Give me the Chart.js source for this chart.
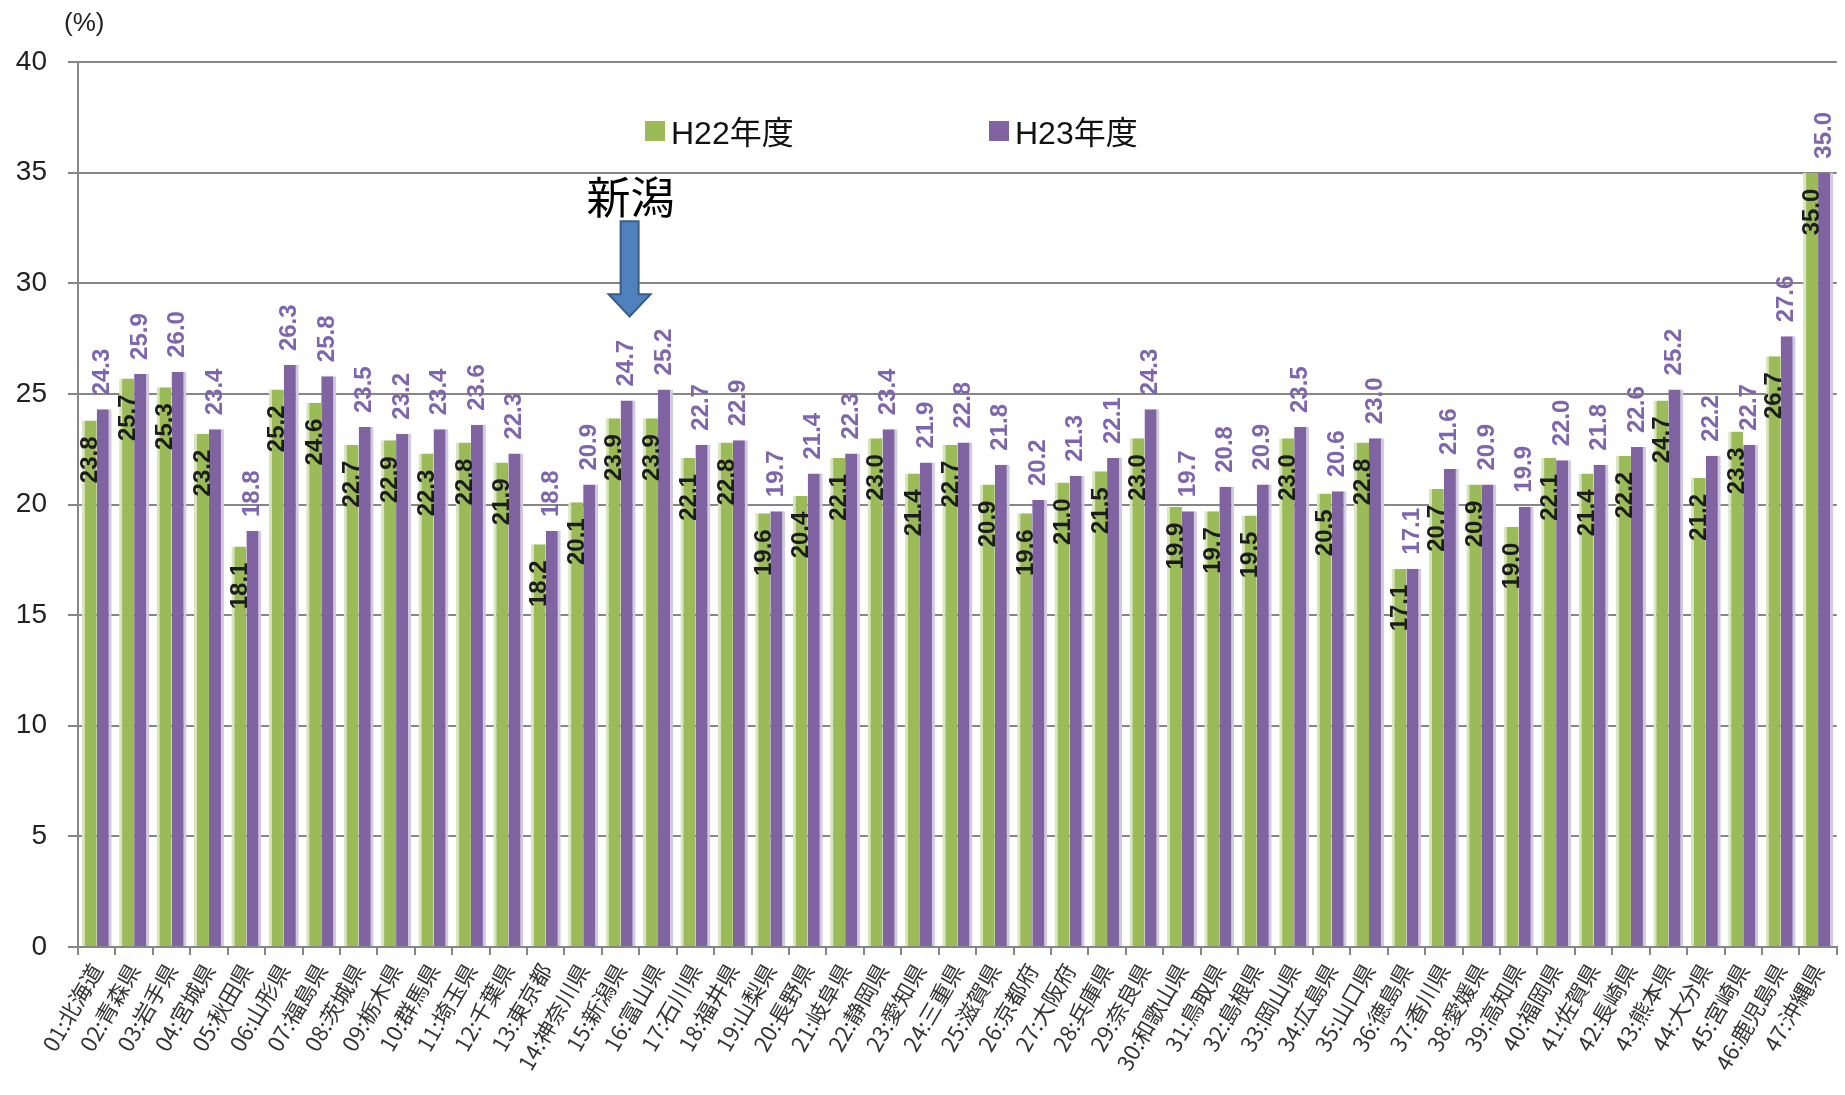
<!DOCTYPE html>
<html>
<head>
<meta charset="utf-8">
<script src="https://cdn.jsdelivr.net/npm/chart.js@4.4.0/dist/chart.umd.min.js"></script>
<style>
  html, body { margin: 0; padding: 0; background: #ffffff; }
</style>
</head>
<body>
<canvas id="myChart" width="1845" height="1095"></canvas>
<script>
// categories
const prefectures = [
  '01:北海道', '02:青森県', '03:岩手県', '04:宮城県', '05:秋田県', '06:山形県', '07:福島県',
  '08:茨城県', '09:栃木県', '10:群馬県', '11:埼玉県', '12:千葉県', '13:東京都', '14:神奈川県',
  '15:新潟県', '16:富山県', '17:石川県', '18:福井県', '19:山梨県', '20:長野県', '21:岐阜県',
  '22:静岡県', '23:愛知県', '24:三重県', '25:滋賀県', '26:京都府', '27:大阪府', '28:兵庫県',
  '29:奈良県', '30:和歌山県', '31:鳥取県', '32:島根県', '33:岡山県', '34:広島県', '35:山口県',
  '36:徳島県', '37:香川県', '38:愛媛県', '39:高知県', '40:福岡県', '41:佐賀県', '42:長崎県',
  '43:熊本県', '44:大分県', '45:宮崎県', '46:鹿児島県', '47:沖縄県'
];

// series values (%)
const h22Values = [
  23.8, 25.7, 25.3, 23.2, 18.1, 25.2, 24.6, 22.7, 22.9, 22.3, 22.8, 21.9, 18.2, 20.1,
  23.9, 23.9, 22.1, 22.8, 19.6, 20.4, 22.1, 23.0, 21.4, 22.7, 20.9, 19.6, 21.0, 21.5,
  23.0, 19.9, 19.7, 19.5, 23.0, 20.5, 22.8, 17.1, 20.7, 20.9, 19.0, 22.1, 21.4, 22.2,
  24.7, 21.2, 23.3, 26.7, 35.0
];
const h23Values = [
  24.3, 25.9, 26.0, 23.4, 18.8, 26.3, 25.8, 23.5, 23.2, 23.4, 23.6, 22.3, 18.8, 20.9,
  24.7, 25.2, 22.7, 22.9, 19.7, 21.4, 22.3, 23.4, 21.9, 22.8, 21.8, 20.2, 21.3, 22.1,
  24.3, 19.7, 20.8, 20.9, 23.5, 20.6, 23.0, 17.1, 21.6, 20.9, 19.9, 22.0, 21.8, 22.6,
  25.2, 22.2, 22.7, 27.6, 35.0
];

// tick labels
const yTickValues = [0, 5, 10, 15, 20, 25, 30, 35, 40];
const seriesNames = ['H22年度', 'H23年度'];
const unitLabel = '(%)';
const markerIndex = 14;
const markerText = '新潟';

const seriesColors = ['#9BBB59', '#8064A2'];
const edgeColors = ['#D8E5BF', '#D2C9E1'];
const labelColors = ['#1c1c1c', '#7E66AE'];
const gridColor = '#868686';

// value labels: green inside the bar top, purple above the bar, both rotated
const barLabelPlugin = {
  id: 'barLabels',
  afterDatasetsDraw(chart) {
    const ctx = chart.ctx;
    ctx.save();
    ctx.font = 'bold 24px "Liberation Sans", Arial, sans-serif';
    ctx.textBaseline = 'middle';
    chart.data.datasets.forEach((ds, di) => {
      const meta = chart.getDatasetMeta(di);
      const inside = di === 0;
      meta.data.forEach((bar, i) => {
        const text = ds.data[i].toFixed(1);
        ctx.save();
        ctx.translate(bar.x + (inside ? 1.5 : -1.5), inside ? bar.y + 16 : bar.y - 14);
        ctx.rotate(-Math.PI / 2);
        ctx.textAlign = inside ? 'right' : 'left';
        ctx.fillStyle = labelColors[di];
        ctx.fillText(text, 0, 0);
        ctx.restore();
      });
    });
    ctx.restore();
  }
};

// legend, unit label and the 新潟 arrow
const overlayPlugin = {
  id: 'overlay',
  afterDraw(chart) {
    const ctx = chart.ctx;
    const xs = chart.scales.x;
    const ys = chart.scales.y;
    ctx.save();

    ctx.fillStyle = '#222';
    ctx.font = '26px "Liberation Sans", Arial, sans-serif';
    ctx.textAlign = 'left';
    ctx.textBaseline = 'middle';
    ctx.fillText(unitLabel, 64, 24);

    // legend
    const legendX = [645, 989];
    ctx.font = '32px "Liberation Sans", "Noto Sans CJK JP", sans-serif';
    seriesNames.forEach((name, i) => {
      ctx.fillStyle = seriesColors[i];
      ctx.fillRect(legendX[i], 121, 20, 20);
      ctx.fillStyle = '#111';
      ctx.fillText(name, legendX[i] + 26, 135);
    });

    // arrow pointing at 新潟
    const cx = xs.getPixelForValue(markerIndex) + 9;
    const top = ys.getPixelForValue(32.8);
    const headBase = ys.getPixelForValue(29.5);
    const tip = ys.getPixelForValue(28.5);
    ctx.beginPath();
    ctx.moveTo(cx - 9, top);
    ctx.lineTo(cx + 9, top);
    ctx.lineTo(cx + 9, headBase);
    ctx.lineTo(cx + 21, headBase);
    ctx.lineTo(cx, tip);
    ctx.lineTo(cx - 21, headBase);
    ctx.lineTo(cx - 9, headBase);
    ctx.closePath();
    ctx.fillStyle = '#4F81BD';
    ctx.fill();
    ctx.strokeStyle = '#385D8A';
    ctx.lineWidth = 2;
    ctx.stroke();

    ctx.fillStyle = '#000';
    ctx.font = '44px "Noto Sans CJK JP", sans-serif';
    ctx.textAlign = 'center';
    ctx.fillText(markerText, cx + 1, ys.getPixelForValue(33.9));

    ctx.restore();
  }
};

const ctx = document.getElementById('myChart').getContext('2d');
new Chart(ctx, {
  type: 'bar',
  data: {
    labels: prefectures,
    datasets: [
      {
        label: seriesNames[0],
        data: h22Values,
        backgroundColor: seriesColors[0],
        borderColor: edgeColors[0],
        borderWidth: { left: 3, right: 0, top: 0, bottom: 0 },
        categoryPercentage: 0.8,
        barPercentage: 1.0
      },
      {
        label: seriesNames[1],
        data: h23Values,
        backgroundColor: seriesColors[1],
        borderColor: edgeColors[1],
        borderWidth: { left: 0, right: 3, top: 0, bottom: 0 },
        categoryPercentage: 0.8,
        barPercentage: 1.0
      }
    ]
  },
  options: {
    responsive: false,
    animation: false,
    layout: { padding: { left: 0, right: 7, top: 62, bottom: 0 } },
    plugins: {
      legend: { display: false },
      tooltip: { enabled: false }
    },
    scales: {
      x: {
        offset: true,
        grid: {
          offset: true,
          drawOnChartArea: false,
          drawTicks: true,
          tickLength: 8,
          color: gridColor,
          lineWidth: 2
        },
        border: { display: true, color: gridColor, width: 2 },
        ticks: {
          autoSkip: false,
          maxRotation: 60,
          minRotation: 60,
          padding: 4,
          color: '#333',
          font: { family: "'Noto Sans CJK JP', sans-serif", size: 22 }
        },
        afterFit(scale) { scale.height = 148; }
      },
      y: {
        min: 0,
        max: 40,
        afterBuildTicks(scale) {
          scale.ticks = yTickValues.map(v => ({ value: v }));
        },
        grid: {
          color: gridColor,
          lineWidth: 2,
          drawTicks: true,
          tickLength: 10
        },
        border: { display: true, color: gridColor, width: 2 },
        ticks: {
          padding: 21,
          color: '#222',
          font: { family: "'Liberation Sans', Arial, sans-serif", size: 28 }
        },
        afterFit(scale) { scale.width = 78; }
      }
    }
  },
  plugins: [barLabelPlugin, overlayPlugin]
});
</script>
</body>
</html>
